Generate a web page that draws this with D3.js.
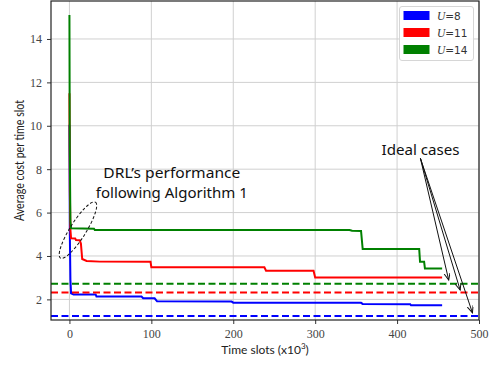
<!DOCTYPE html>
<html><head><meta charset="utf-8">
<script src="https://cdn.jsdelivr.net/npm/d3@7"></script>
<style>body{margin:0;background:#fff}svg{display:block}</style>
</head><body><svg id="c" width="492" height="365"></svg>
<script>
// ---- data ----
const seriesNames = ["U=8", "U=11", "U=14"];
const seriesColors = ["#0000ff", "#ff0000", "#008000"];
const xTicks = [0, 100, 200, 300, 400, 500];
const yTicks = [2, 4, 6, 8, 10, 12, 14];
const blueX = [0, 0.5, 1.2, 2, 5, 32, 33, 88, 90, 104, 107, 198, 200, 356, 358, 416, 417, 455];
const blueY = [10.05, 5.0, 2.9, 2.28, 2.23, 2.23, 2.13, 2.13, 2.05, 2.05, 1.91, 1.90, 1.85, 1.84, 1.79, 1.78, 1.73, 1.73];
const redX = [0, 0.5, 1.2, 2, 7, 8, 12.5, 14, 15.6, 21, 37, 99, 100, 238, 240, 298, 300, 455];
const redY = [11.5, 7.0, 5.2, 4.82, 4.81, 4.74, 4.73, 4.58, 3.86, 3.77, 3.74, 3.73, 3.48, 3.48, 3.32, 3.32, 3.01, 3.01];
const greenX = [0, 0.4, 1.2, 2, 30, 31, 342, 345, 356, 358, 427, 428, 433, 434, 455];
const greenY = [15.1, 9.0, 5.6, 5.28, 5.26, 5.2, 5.2, 5.16, 5.15, 4.32, 4.32, 3.73, 3.73, 3.42, 3.42];
const idealY = [1.23, 2.32, 2.72];
const idealArrowTargets = [[463, 2.89], [477, 2.43], [492, 1.38]];

const svg = d3.select("#c");
const L = 51, R = 479, T = 1, B = 320;
const x = d3.scaleLinear().domain([-22.5, 500]).range([L, R]);
const y = d3.scaleLinear().domain([1.05, 15.75]).range([B, T]);

const serif = "'Liberation Serif', 'DejaVu Serif', serif";
const sans = "Lato, 'DejaVu Sans', sans-serif";

// grid
svg.append("g").selectAll("line").data(xTicks).join("line")
  .attr("x1", d => x(d)).attr("x2", d => x(d)).attr("y1", T).attr("y2", B)
  .attr("stroke", "#d0d0d0").attr("stroke-width", 1);
svg.append("g").selectAll("line").data(yTicks).join("line")
  .attr("x1", L).attr("x2", R).attr("y1", d => y(d)).attr("y2", d => y(d))
  .attr("stroke", "#d0d0d0").attr("stroke-width", 1);

// axes
const xa = svg.append("g").attr("transform", `translate(0,${B})`)
  .call(d3.axisBottom(x).tickValues(xTicks).tickSize(4).tickPadding(5));
const ya = svg.append("g").attr("transform", `translate(${L},0)`)
  .call(d3.axisLeft(y).tickValues(yTicks).tickSize(4).tickPadding(5));
[xa, ya].forEach(a => {
  a.select(".domain").remove();
  a.selectAll(".tick line").attr("stroke", "#333");
  a.selectAll(".tick text").attr("font-family", serif).attr("font-size", 12).attr("fill", "#444");
});

// series
const line = d3.line().x(d => x(d[0])).y(d => y(d[1]));
const seriesData = [
  d3.zip(blueX, blueY), d3.zip(redX, redY), d3.zip(greenX, greenY)
];
const plot = svg.append("g");
seriesData.forEach((s, i) => {
  plot.append("path").attr("d", line(s)).attr("fill", "none")
    .attr("stroke", seriesColors[i]).attr("stroke-width", 2).attr("stroke-linejoin", "miter");
});
idealY.forEach((v, i) => {
  plot.append("line").attr("x1", L).attr("x2", R).attr("y1", y(v)).attr("y2", y(v))
    .attr("stroke", seriesColors[i]).attr("stroke-width", 2).attr("stroke-dasharray", "7,3.5");
});

// frame
svg.append("rect").attr("x", L).attr("y", T).attr("width", R - L).attr("height", B - T)
  .attr("fill", "none").attr("stroke", "#222").attr("stroke-width", 1.2);

// axis labels
const xl = svg.append("text").attr("x", (L + R) / 2).attr("y", 354).attr("text-anchor", "middle")
  .attr("font-family", sans).attr("font-size", 12).attr("fill", "#222");
xl.append("tspan").text("Time slots (x10");
xl.append("tspan").text("3").attr("font-size", 8).attr("dy", -5);
xl.append("tspan").text(")").attr("dy", 5);
svg.append("text").attr("transform", `translate(24,${(T + B) / 2}) rotate(-90)`)
  .attr("text-anchor", "middle").attr("font-family", sans).attr("font-size", 12.5).attr("fill", "#222")
  .attr("textLength", 121).attr("lengthAdjust", "spacingAndGlyphs")
  .text("Average cost per time slot");

// legend
const lg = svg.append("g");
lg.append("rect").attr("x", 399.5).attr("y", 6.5).attr("width", 74).attr("height", 54).attr("rx", 2.5)
  .attr("fill", "#fff").attr("fill-opacity", 0.85).attr("stroke", "#d6d6d6");
seriesNames.forEach((n, i) => {
  const yy = 11 + i * 17;
  lg.append("rect").attr("x", 403.5).attr("y", yy).attr("width", 26).attr("height", 9).attr("fill", seriesColors[i]);
  const t = lg.append("text").attr("x", 437).attr("y", yy + 8.5).attr("font-size", 11.5).attr("fill", "#333");
  t.append("tspan").attr("font-family", serif).attr("font-style", "italic").text(n.split("=")[0]);
  t.append("tspan").attr("font-family", "'DejaVu Sans', sans-serif").attr("font-size", 10.5).text("=" + n.split("=")[1]);
});

// annotations
const ann = "'Noto Sans', 'Open Sans', sans-serif";
svg.append("text").attr("x", x(125)).attr("y", y(7.58)).attr("text-anchor", "middle")
  .attr("font-family", ann).attr("font-size", 14.5).attr("fill", "#111")
  .attr("textLength", 137).attr("lengthAdjust", "spacingAndGlyphs").text("DRL\u2019s performance");
svg.append("text").attr("x", x(125)).attr("y", y(6.69)).attr("text-anchor", "middle")
  .attr("font-family", ann).attr("font-size", 14.5).attr("fill", "#111")
  .attr("textLength", 152).attr("lengthAdjust", "spacingAndGlyphs").text("following Algorithm 1");
svg.append("ellipse").attr("cx", 0).attr("cy", 0).attr("rx", 33).attr("ry", 8)
  .attr("transform", `translate(${x(10.4)},${y(5.19)}) rotate(-58)`)
  .attr("fill", "none").attr("stroke", "#111").attr("stroke-width", 1).attr("stroke-dasharray", "3,2");

svg.append("text").attr("x", x(428.7)).attr("y", y(8.65)).attr("text-anchor", "middle")
  .attr("font-family", ann).attr("font-size", 15).attr("fill", "#111")
  .attr("textLength", 78).attr("lengthAdjust", "spacingAndGlyphs").text("Ideal cases");

svg.append("defs").append("marker").attr("id", "arr").attr("markerUnits", "userSpaceOnUse")
  .attr("markerWidth", 10).attr("markerHeight", 8).attr("refX", 7).attr("refY", 3).attr("orient", "auto")
  .append("path").attr("d", "M0,0 L7,3 L0,6").attr("fill", "none").attr("stroke", "#111").attr("stroke-width", 1);
idealArrowTargets.forEach(p => {
  svg.append("line").attr("x1", x(428.5)).attr("y1", y(8.5)).attr("x2", x(p[0])).attr("y2", y(p[1]))
    .attr("stroke", "#111").attr("stroke-width", 1).attr("marker-end", "url(#arr)");
});
</script></body></html>
